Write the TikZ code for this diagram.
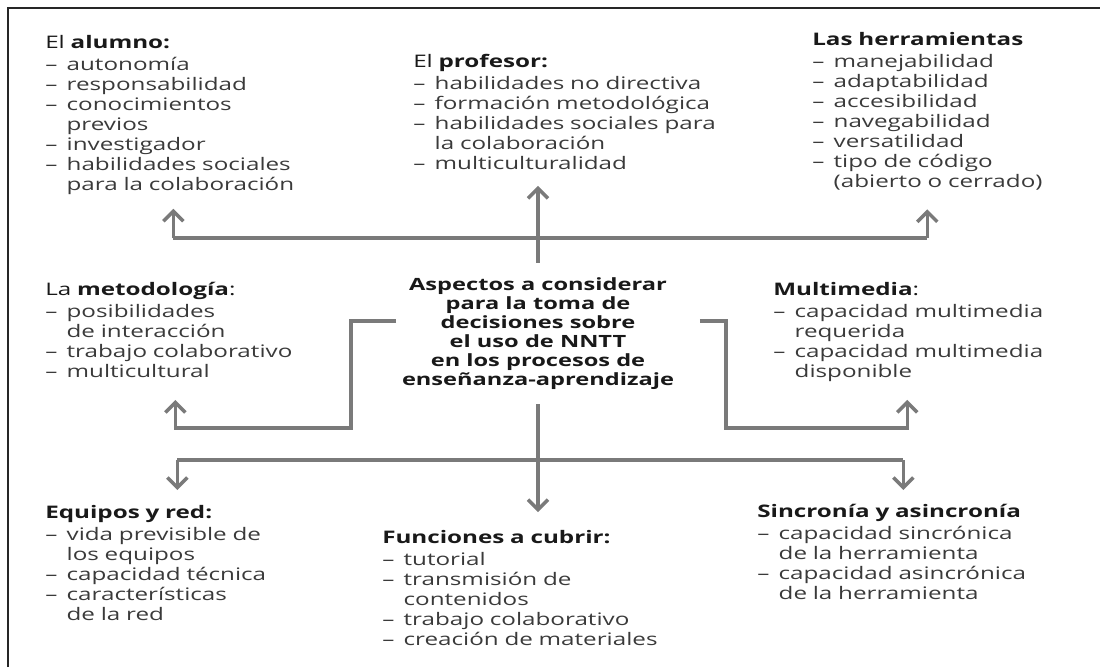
\documentclass[tikz,border=0pt]{standalone}
\usepackage{fontspec}
\setmainfont{Open Sans}[FakeStretch=1.4]
\usetikzlibrary{arrows.meta}

\definecolor{linegray}{RGB}{122,122,122}
\definecolor{txtgray}{RGB}{58,58,58}
\definecolor{headgray}{RGB}{25,25,25}

\setlength{\parindent}{0pt}
\newlength{\dashw}
\setlength{\dashw}{15.2pt}
\newcommand{\hdr}[1]{{\color{headgray}#1}\par\vspace{1.5pt}}
\newcommand{\itm}[1]{\par\makebox[\dashw][l]{–}\mbox{#1}}
\newcommand{\cont}[1]{\par\hspace*{\dashw}\mbox{#1}}

\begin{document}
\begin{tikzpicture}[x=0.025cm, y=-0.025cm,
    block/.style={anchor=north west, inner sep=0pt, align=left, text=txtgray,
      font=\fontsize{12.3}{14.2}\selectfont},
    hub/.style={align=center, inner sep=0pt, minimum width=7.575cm,
      minimum height=3.525cm, text=headgray,
      font=\fontsize{12}{13.6}\selectfont\bfseries},
    bus/.style={draw=linegray, line width=2.5pt},
    arr/.style={bus, -{Straight Barb[length=0.25cm, width=0.5cm]}},
    frame/.style={draw=black!85, line width=1.1pt}]
  \useasboundingbox (0,0) rectangle (1100,667);

  % Frame
  \draw [frame] (8,667) -- (8,8) -- (1100,8);

  % Centre
  \node [hub] (hub) at (538,333.5) {Aspectos a considerar\\para la toma de\\
    decisiones sobre\\el uso de NNTT\\en los procesos de\\enseñanza-aprendizaje};

  % Top row
  \node [block, text width=6.4cm] (alumno) at (45,35) {\hdr{El \textbf{alumno:}}%
    \itm{autonomía}\itm{responsabilidad}\itm{conocimientos}\cont{previos}%
    \itm{investigador}\itm{habilidades sociales}\cont{para la colaboración}};
  \node [block, text width=6.2cm] (profesor) at (413,54) {\hdr{El \textbf{profesor:}}%
    \itm{habilidades no directiva}\itm{formación metodológica}%
    \itm{habilidades sociales para}\cont{la colaboración}\itm{multiculturalidad}};
  \node [block, text width=5.75cm] (herram) at (812,32) {\hdr{\textbf{Las herramientas}}%
    \itm{manejabilidad}\itm{adaptabilidad}\itm{accesibilidad}\itm{navegabilidad}%
    \itm{versatilidad}\itm{tipo de código}\cont{(abierto o cerrado)}};

  % Middle row
  \node [block, text width=6.5cm] (metod) at (45,282) {\hdr{La \textbf{metodología}:}%
    \itm{posibilidades}\cont{de interacción}\itm{trabajo colaborativo}%
    \itm{multicultural}};
  \node [block, text width=6.7cm] (multim) at (773,282) {\hdr{\textbf{Multimedia}:}%
    \itm{capacidad multimedia}\cont{requerida}\itm{capacidad multimedia}%
    \cont{disponible}};

  % Bottom row
  \node [block, text width=6.6cm] (equipos) at (45,505) {\hdr{\textbf{Equipos y red:}}%
    \itm{vida previsible de}\cont{los equipos}\itm{capacidad técnica}%
    \itm{características}\cont{de la red}};
  \node [block, text width=7.8cm] (funciones) at (382,530) {\hdr{\textbf{Funciones a cubrir:}}%
    \itm{tutorial}\itm{transmisión de}\cont{contenidos}\itm{trabajo colaborativo}%
    \itm{creación de materiales}};
  \node [block, text width=7.3cm] (sincro) at (757,504) {\hdr{\textbf{Sincronía y asincronía}}%
    \itm{capacidad sincrónica}\cont{de la herramienta}\itm{capacidad asincrónica}%
    \cont{de la herramienta}};

  \coordinate (topbus) at (538,238);
  \coordinate (lbend) at (351,428);
  \coordinate (rbend) at (726,428);
  \coordinate (botbus) at (538,460);

  % Up to the top row
  \draw [arr, shorten >=0.4cm] (hub.north) -- (hub.north |- profesor.south);
  \draw [bus] (topbus -| alumno.south) -- (topbus -| herram.south);
  \draw [arr, shorten >=0.35cm] (topbus -| alumno.south) -- (alumno.south);
  \draw [arr, shorten >=0.475cm] (topbus -| herram.south) -- (herram.south);

  % Sides
  \draw [arr, shorten >=0.55cm] ([xshift=0.25cm, yshift=0.31cm]hub.west) -| (lbend)
    -| (metod.south);
  \draw [arr, shorten >=0.45cm] ([xshift=0.25cm, yshift=0.31cm]hub.east) -| (rbend)
    -| (multim.south);

  % Down to the bottom row
  \draw [arr, shorten >=0.45cm] (hub.south) -- (hub.south |- funciones.north);
  \draw [bus] (botbus -| equipos.north) -- (botbus -| sincro.north);
  \draw [arr, shorten >=0.375cm] (botbus -| equipos.north) -- (equipos.north);
  \draw [arr, shorten >=0.35cm] (botbus -| sincro.north) -- (sincro.north);
\end{tikzpicture}
\end{document}
